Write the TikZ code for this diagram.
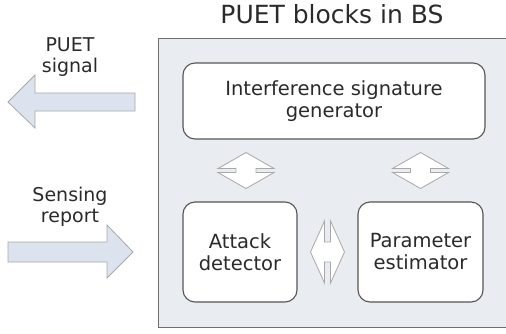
\documentclass[tikz,border=0pt]{standalone}
\usepackage{fontspec}
\setmainfont{DejaVu Sans}
\usetikzlibrary{calc}
\definecolor{bsfill}{HTML}{E9ECF1}
\definecolor{arrfill}{HTML}{DCE3EE}
\definecolor{arrline}{HTML}{A8A8A8}
\definecolor{boxline}{HTML}{555555}
\definecolor{bigline}{HTML}{6E6E6E}
\definecolor{txt}{HTML}{2A2A2A}
\tikzset{
  blockbox/.style={draw=boxline, line width=1.1pt, fill=white, rounded corners=12pt,
    align=center, font=\fontsize{19.5}{22}\selectfont, text=txt, inner sep=0pt},
  fatarrow/.style={draw=arrline, fill=arrfill, line width=0.8pt, line join=miter},
  dblarrow/.style={draw=arrline, fill=white, line width=0.8pt},
  lbl/.style={align=center, font=\fontsize{19}{21}\selectfont, text=txt, inner sep=0pt},
  pics/vdbl/.style={code={
    \draw[dblarrow] (0,-18) -- (28,-2) -- (10,-2) -- (10,2) -- (28,2) -- (0,18)
      -- (-28,2) -- (-10,2) -- (-10,-2) -- (-28,-2) -- cycle;}},
  pics/hdbl/.style={code={
    \draw[dblarrow] (-17,0) -- (-3,-31) -- (-3,-10) -- (3,-10) -- (3,-31) -- (17,0)
      -- (3,31) -- (3,10) -- (-3,10) -- (-3,31) -- cycle;}}
}
\begin{document}
\begin{tikzpicture}[x=1pt,y=-1pt]
\useasboundingbox (0,0) rectangle (506,333);
% big BS box
\node[draw=bigline, line width=1pt, fill=bsfill, minimum width=352pt, minimum height=289pt,
  inner sep=0pt, anchor=north west] (bs) at (158,38) {};
\node[font=\fontsize{25}{27}\selectfont, text=txt, inner sep=0pt] (title) at (332,14) {PUET blocks in BS};
% inner blocks
\node[blockbox, minimum width=302pt, minimum height=76pt] (isg) at (334,101)
  {Interference signature\\generator};
\node[blockbox, minimum width=114pt, minimum height=100pt] (att) at (240,252)
  {Attack\\detector};
\node[blockbox, minimum width=125pt, minimum height=100pt] (par) at (420.5,252)
  {Parameter\\estimator};
% double arrows
\coordinate (d1) at ($(att.north |- isg.south)!0.5!(att.north) + (6,0)$);
\coordinate (d2) at ($(par.north |- isg.south)!0.5!(par.north)$);
\coordinate (d3) at ($(att.east)!0.5!(par.west)$);
\pic at (d1) {vdbl};
\pic at (d2) {vdbl};
\pic at (d3) {hdbl};
% external arrows
\node[lbl] (puet) at (70,57) {PUET\\signal};
\node[lbl] (sens) at (70,207) {Sensing\\report};
\coordinate (pa) at (135,102);
\coordinate (sa) at (8,252);
\draw[fatarrow] (pa) ++(0,-9) -- ++(-100,0) -- ++(0,-18) -- (8,102) -- (35,128) -- ++(0,-17) -- ++(100,0) -- cycle;
\draw[fatarrow] (sa) ++(0,-10) -- ++(99,0) -- ++(0,-17) -- (133,252) -- (107,278) -- ++(0,-16) -- ++(-99,0) -- cycle;
\end{tikzpicture}
\end{document}
